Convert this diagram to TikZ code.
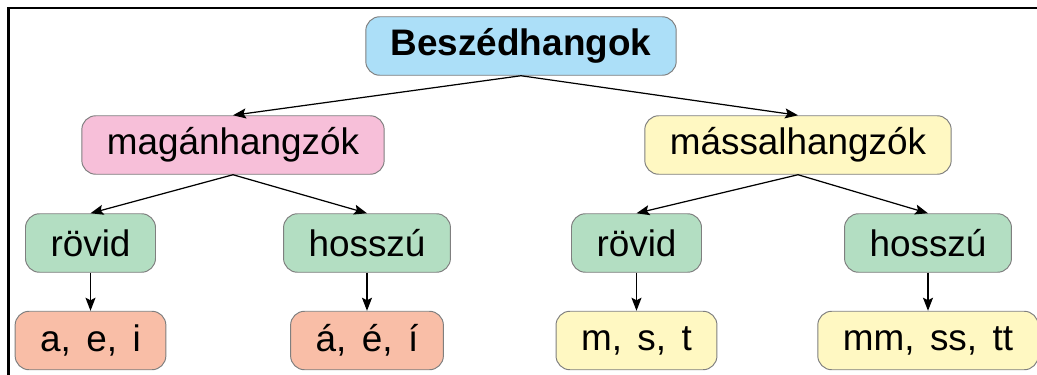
\documentclass[tikz,border=0pt]{standalone}
\usepackage{fontspec}
\setmainfont{Liberation Sans}
\usetikzlibrary{arrows.meta}
\definecolor{rootblue}{HTML}{ACDFF8}
\definecolor{vowpink}{HTML}{F7BFD9}
\definecolor{conyellow}{HTML}{FFF8C2}
\definecolor{lengreen}{HTML}{B3DEC2}
\definecolor{letsalmon}{HTML}{F9BEA7}
\definecolor{boxgray}{HTML}{7F7F7F}
\newcommand{\gapsp}{\hspace{0.42em}}

\begin{document}
\begin{tikzpicture}[>={Stealth[length=0.26cm,width=0.2cm,inset=0.05cm]},
  box/.style={draw=boxgray,line width=0.55pt,rounded corners=0.28cm,
    inner xsep=0.5cm,minimum height=1.17cm,
    font=\fontsize{21}{25}\selectfont},
  link/.style={->,line width=0.7pt}]
\clip (0,0) rectangle (20.74,-7.5);
% frame
\draw[line width=1.2pt] (0.17,-7.8) -- (0.17,-0.16) -- (21,-0.16);
% top
\node[box,fill=rootblue,font=\fontsize{21}{25}\selectfont\bfseries] (root) at (10.42,-0.92) {Beszédhangok};
\node[box,fill=vowpink]   (vow)  at (4.66,-2.90)  {magánhangzók};
\node[box,fill=conyellow] (cons) at (15.96,-2.90) {mássalhangzók};
% length
\node[box,fill=lengreen] (vs) at (1.81,-4.86)  {rövid};
\node[box,fill=lengreen] (vl) at (7.34,-4.86)  {hosszú};
\node[box,fill=lengreen] (cs) at (12.73,-4.86) {rövid};
\node[box,fill=lengreen] (cl) at (18.56,-4.86) {hosszú};
% letters
\node[box,fill=letsalmon] (vsl) at (1.81,-6.81)  {a,\gapsp e,\gapsp i};
\node[box,fill=letsalmon] (vll) at (7.34,-6.81)  {á,\gapsp é,\gapsp í};
\node[box,fill=conyellow] (csl) at (12.73,-6.81) {m,\gapsp s,\gapsp t};
\node[box,fill=conyellow] (cll) at (18.56,-6.81) {mm,\gapsp ss,\gapsp tt};
% edges
\draw[link] (root.south) -- (vow.north);
\draw[link] (root.south) -- (cons.north);
\draw[link] (vow.south) -- (vs.north);
\draw[link] (vow.south) -- (vl.north);
\draw[link] (cons.south) -- (cs.north);
\draw[link] (cons.south) -- (cl.north);
\draw[link] (vs) -- (vsl);
\draw[link] (vl) -- (vll);
\draw[link] (cs) -- (csl);
\draw[link] (cl) -- (cll);
\end{tikzpicture}
\end{document}
